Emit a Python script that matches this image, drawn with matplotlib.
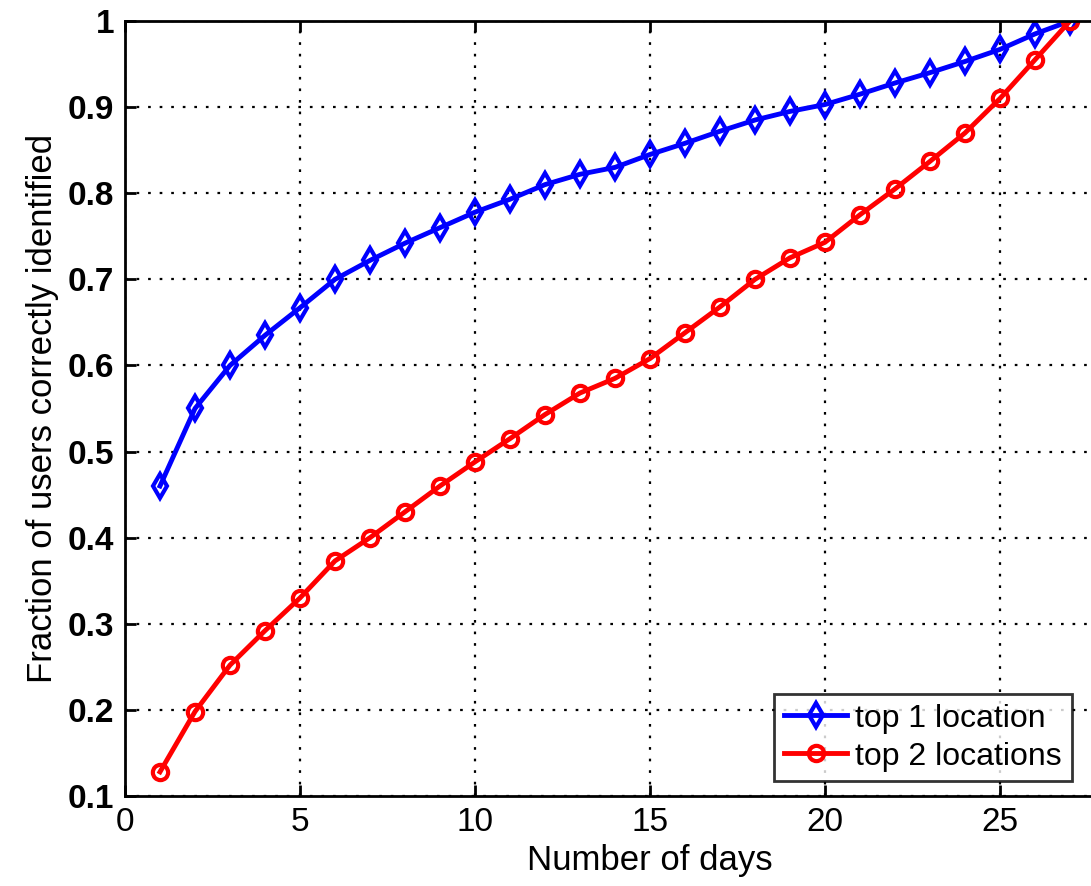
import matplotlib
matplotlib.use("Agg")
import matplotlib.pyplot as plt

# Fraction of users identified vs. number of observed days
days = list(range(1, 28))
top1 = [0.46, 0.55, 0.60, 0.635, 0.667, 0.70, 0.722, 0.742, 0.76, 0.778,
        0.793, 0.81, 0.822, 0.83, 0.845, 0.858, 0.872, 0.885, 0.895, 0.903,
        0.915, 0.928, 0.94, 0.953, 0.967, 0.985, 1.0]
top2 = [0.128, 0.198, 0.252, 0.292, 0.33, 0.373, 0.40, 0.43, 0.46, 0.488,
        0.515, 0.543, 0.568, 0.585, 0.608, 0.638, 0.668, 0.70, 0.725, 0.743,
        0.775, 0.805, 0.837, 0.87, 0.91, 0.955, 1.0]

xticks = [0, 5, 10, 15, 20, 25]
yticks = [0.1, 0.2, 0.3, 0.4, 0.5, 0.6, 0.7, 0.8, 0.9, 1.0]
ytick_labels = ["0.1", "0.2", "0.3", "0.4", "0.5", "0.6", "0.7", "0.8", "0.9", "1"]

plt.rcParams["font.family"] = ["Liberation Sans", "DejaVu Sans"]

W, H = 1091, 886
fig = plt.figure(figsize=(W / 100, H / 100), dpi=100)
# axes run past the right edge of the canvas (x up to 30)
ax = fig.add_axes([125 / W, 90 / H, 1050 / W, 775 / H])

ax.plot(days, top1, color="blue", lw=3.5, marker="d", ms=12, mew=3,
        mfc="none", mec="blue", label="top 1 location")
ax.plot(days, top2, color="red", lw=3.5, marker="o", ms=11, mew=3,
        mfc="none", mec="red", label="top 2 locations")

ax.set_xlim(0, 30)
ax.set_ylim(0.1, 1.0)
ax.set_xticks(xticks)
ax.set_yticks(yticks)
ax.set_yticklabels(ytick_labels)
ax.tick_params(direction="in", length=8, width=2, top=True, right=True,
               labelsize=24, pad=8)
for lab in ax.get_yticklabels():
    lab.set_fontweight("bold")

ax.grid(True, color="black", linestyle=(0, (1.2, 4)), linewidth=1.6)
for sp in ax.spines.values():
    sp.set_linewidth(2)

ax.set_xlabel("Number of days", fontsize=25, labelpad=4)
ax.set_ylabel("Fraction of users correctly identified", fontsize=25, labelpad=6)

leg = ax.legend(loc="upper left", bbox_to_anchor=(774 / W, 1 - 694 / H),
                bbox_transform=fig.transFigure, fontsize=23, frameon=True,
                fancybox=False, edgecolor="black", borderaxespad=0,
                handlelength=2.0, handletextpad=0.25, borderpad=0.3,
                labelspacing=0.25)
leg.get_frame().set_linewidth(2)

fig.savefig("out.png", dpi=100)
